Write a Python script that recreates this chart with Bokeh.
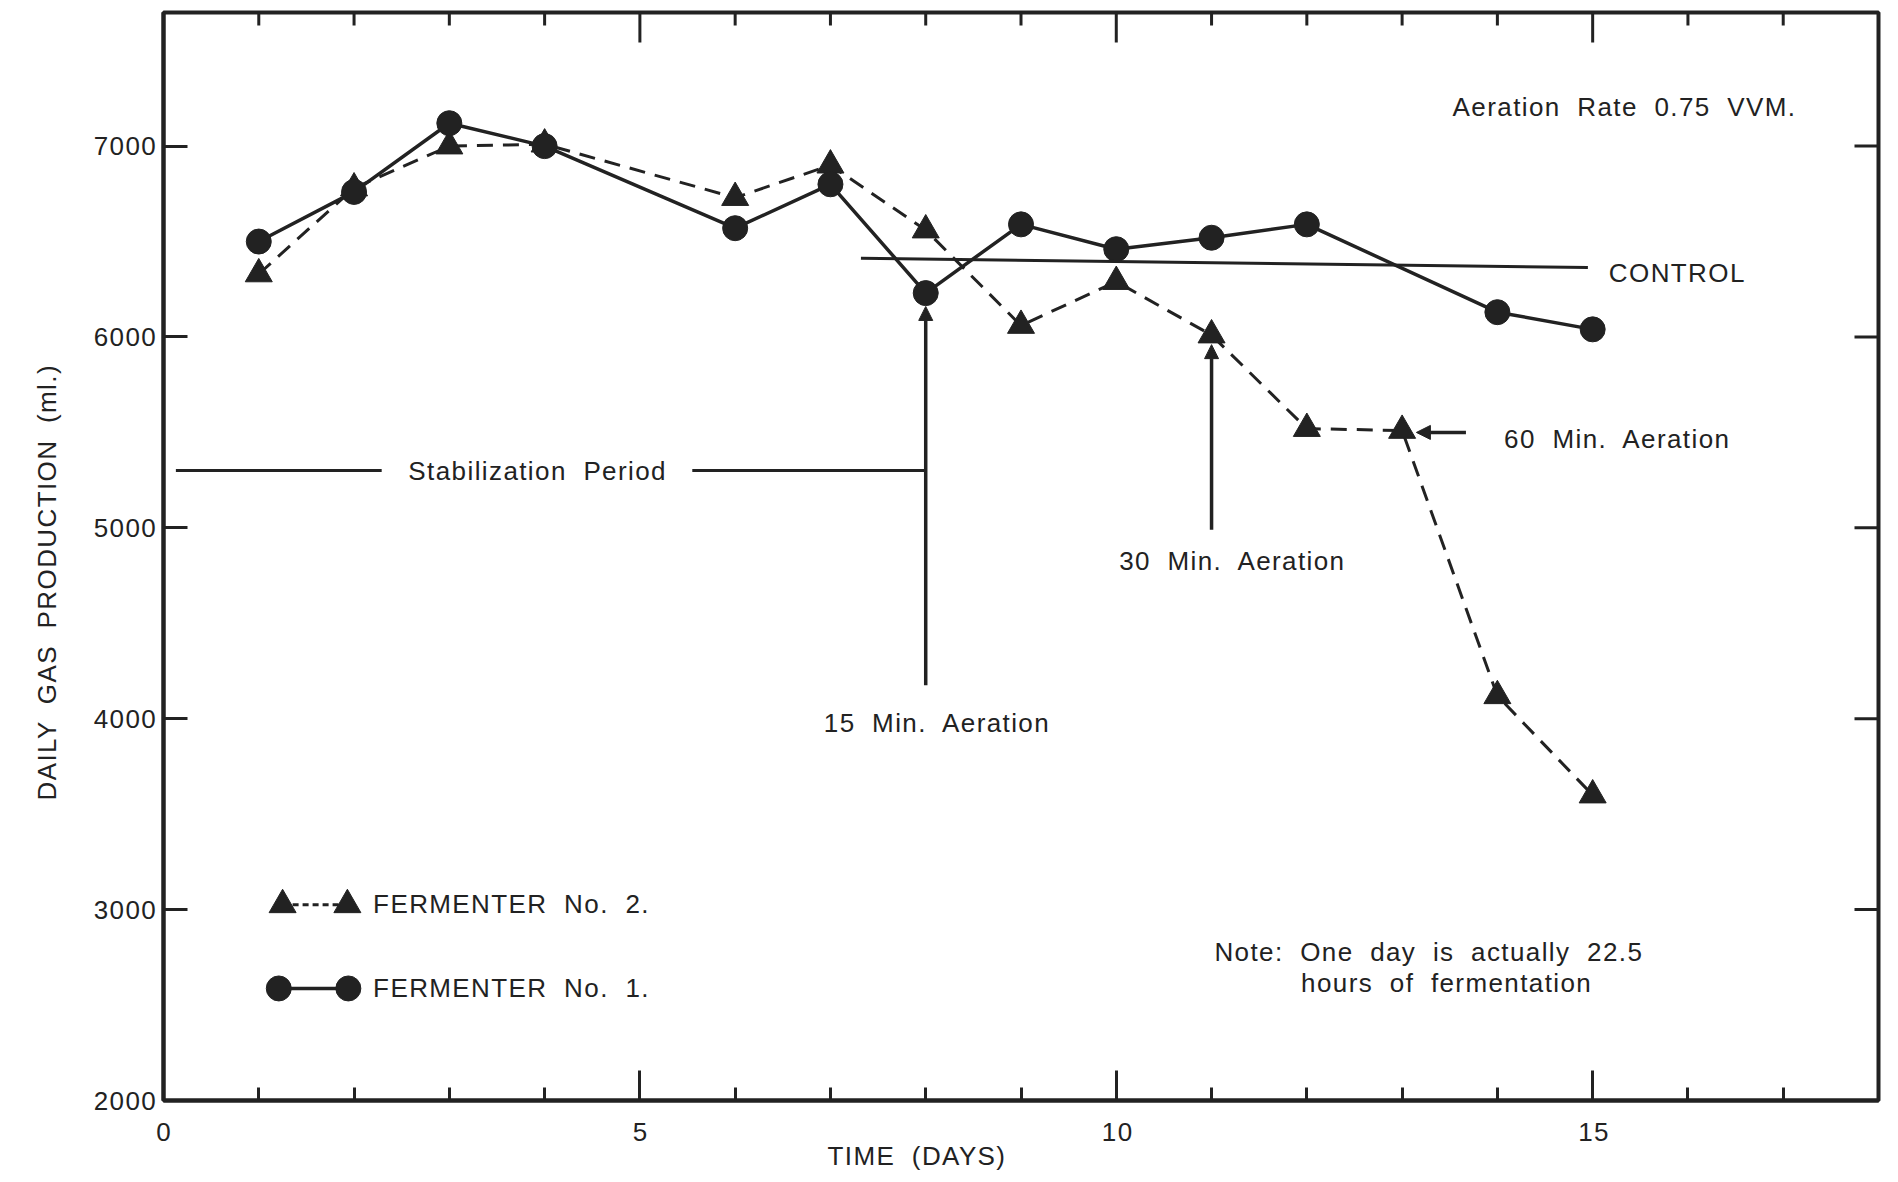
from bokeh.plotting import figure
from bokeh.models import (Range1d, SingleIntervalTicker, Label, Arrow, NormalHead,
                          Title, InlineStyleSheet)
from bokeh.embed import file_html
from bokeh.resources import INLINE

# ---------------- data ----------------
days_f1 = [1, 2, 3, 4, 6, 7, 8, 9, 10, 11, 12, 14, 15]
gas_f1 = [6500, 6760, 7120, 7000, 6570, 6800, 6230, 6590, 6460, 6520, 6590, 6130, 6040]

days_f2 = [1, 2, 3, 4, 6, 7, 8, 9, 10, 11, 12, 13, 14, 15]
gas_f2 = [6330, 6780, 7000, 7010, 6730, 6900, 6560, 6060, 6290, 6010, 5520, 5510, 4120, 3600]

control_days = [7.32, 14.95]
control_gas = [6412, 6364]

x_minor_ticks = [d for d in range(1, 18) if d % 5 != 0]
x_major_ticks = [5, 10, 15]
y_ticks = [3000, 4000, 5000, 6000, 7000]

stab_level = 5300
aeration_15_day = 8
aeration_30_day = 11
aeration_60_day = 13

FONT = "Liberation Sans"
INK = "#222222"

# ---------------- layout ----------------
W, H = 1896, 1180
LEFT, RIGHT, TOP, BOTTOM = 163, 18, 12, 80
X0, X1, Y0, Y1 = 0, 18, 2000, 7700
px_x = (W - LEFT - RIGHT) / (X1 - X0)
px_y = (H - TOP - BOTTOM) / (Y1 - Y0)

p = figure(width=W, height=H, output_backend="svg", toolbar_location=None,
           x_range=Range1d(X0, X1), y_range=Range1d(Y0, Y1),
           min_border_left=LEFT, min_border_right=RIGHT, min_border_top=TOP,
           min_border_bottom=BOTTOM, background_fill_color="white",
           border_fill_color="white")
p.stylesheets = [InlineStyleSheet(css=":host { letter-spacing: 1.4px; word-spacing: 8px; }")]
p.grid.visible = False
p.outline_line_color = INK
p.outline_line_width = 4

MAJ_X, MIN_X, MAJ_Y = 30, 13, 24


def style_axis(ax, ticker, tick_in, minor_in):
    ax.ticker = ticker
    ax.axis_line_color = INK
    ax.axis_line_width = 4
    ax.major_tick_in = tick_in
    ax.major_tick_out = 0
    ax.minor_tick_in = minor_in
    ax.minor_tick_out = 0
    ax.major_tick_line_color = INK
    ax.minor_tick_line_color = INK
    ax.major_tick_line_width = 3
    ax.minor_tick_line_width = 3
    ax.major_label_text_font = FONT
    ax.major_label_text_font_size = "26px"
    ax.major_label_text_color = INK


style_axis(p.xaxis[0], SingleIntervalTicker(interval=5, num_minor_ticks=5), MAJ_X, MIN_X)
p.xaxis[0].major_label_standoff = 22
style_axis(p.yaxis[0], SingleIntervalTicker(interval=1000, num_minor_ticks=0), MAJ_Y, 0)
p.yaxis[0].major_label_standoff = 12

# axis titles
p.add_layout(Title(text="DAILY GAS PRODUCTION (ml.)", align="left", offset=300,
                   standoff=58, text_font=FONT, text_font_size="26px",
                   text_font_style="normal", text_color=INK), "left")
p.add_layout(Title(text="TIME (DAYS)", align="left", offset=664,
                   standoff=-10, text_font=FONT, text_font_size="26px",
                   text_font_style="normal", text_color=INK), "below")

# ticks on the top and right edges of the frame
top_major = MAJ_X / px_y
top_minor = MIN_X / px_y
right_len = MAJ_Y / px_x
p.segment(x0=x_major_ticks, y0=[Y1] * len(x_major_ticks), x1=x_major_ticks,
          y1=[Y1 - top_major] * len(x_major_ticks), line_color=INK, line_width=3)
p.segment(x0=x_minor_ticks, y0=[Y1] * len(x_minor_ticks), x1=x_minor_ticks,
          y1=[Y1 - top_minor] * len(x_minor_ticks), line_color=INK, line_width=3)
p.segment(x0=[X1] * len(y_ticks), y0=y_ticks, x1=[X1 - right_len] * len(y_ticks),
          y1=y_ticks, line_color=INK, line_width=3)

# ---------------- series ----------------
p.line(days_f2, gas_f2, line_color=INK, line_width=3, line_dash="16 10")
p.scatter(days_f2, gas_f2, marker="triangle", size=27, fill_color=INK, line_color=INK)
p.line(days_f1, gas_f1, line_color=INK, line_width=3.5)
p.scatter(days_f1, gas_f1, marker="circle", size=25, fill_color=INK, line_color=INK)

# control line
p.line(control_days, control_gas, line_color=INK, line_width=3)

# stabilization period line (broken for its label)
p.segment(x0=[0.13, 5.55], y0=[stab_level, stab_level],
          x1=[2.29, aeration_15_day], y1=[stab_level, stab_level],
          line_color=INK, line_width=3)

# arrows
f1 = dict(zip(days_f1, gas_f1))
f2 = dict(zip(days_f2, gas_f2))
head = dict(size=14, fill_color=INK, line_color=INK)
p.add_layout(Arrow(end=NormalHead(**head), x_start=aeration_15_day, y_start=4175,
                   x_end=aeration_15_day, y_end=f1[aeration_15_day] - 70,
                   line_color=INK, line_width=3.5))
p.add_layout(Arrow(end=NormalHead(**head), x_start=aeration_30_day, y_start=4990,
                   x_end=aeration_30_day, y_end=f2[aeration_30_day] - 50,
                   line_color=INK, line_width=3.5))
p.add_layout(Arrow(end=NormalHead(**head), x_start=aeration_60_day + 0.67, y_start=f2[aeration_60_day] - 10,
                   x_end=aeration_60_day + 0.15, y_end=f2[aeration_60_day] - 10,
                   line_color=INK, line_width=3.5))

# legend drawn by hand
leg_x_tri = [1.25, 1.93]
leg_x_cir = [1.21, 1.94]
leg_y2 = [3025, 3025]
leg_y1 = [2587, 2587]
p.line(leg_x_tri, leg_y2, line_color=INK, line_width=3, line_dash="6 4")
p.scatter(leg_x_tri, leg_y2, marker="triangle", size=27, fill_color=INK, line_color=INK)
p.line(leg_x_cir, leg_y1, line_color=INK, line_width=3.5)
p.scatter(leg_x_cir, leg_y1, marker="circle", size=25, fill_color=INK, line_color=INK)


def lab(x, y, text, size="26px"):
    p.add_layout(Label(x=x, y=y, text=text, text_font=FONT, text_font_size=size,
                       text_color=INK, text_align="left", text_baseline="middle"))


lab(2.2, 3027, "FERMENTER No. 2.")
lab(2.2, 2587, "FERMENTER No. 1.")
lab(13.53, 7207, "Aeration Rate 0.75 VVM.")
lab(15.17, 6337, "CONTROL")
lab(2.57, stab_level, "Stabilization Period")
lab(6.93, 3977, "15 Min. Aeration")
lab(10.03, 4827, "30 Min. Aeration")
lab(14.07, 5468, "60 Min. Aeration")
lab(11.03, 2779, "Note: One day is actually 22.5")
lab(11.94, 2614, "hours of fermentation")

open("out.html", "w").write(file_html(p, INLINE))
